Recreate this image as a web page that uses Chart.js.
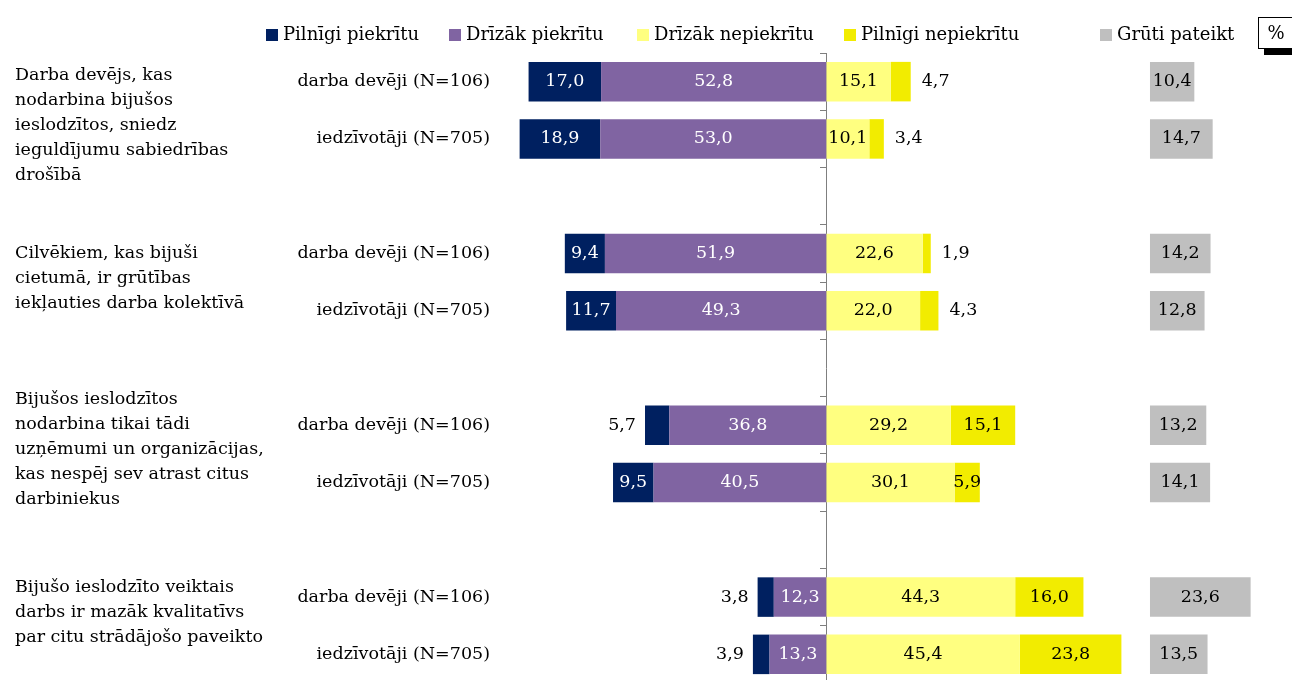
<!DOCTYPE html>
<html>
<head>
<meta charset="utf-8">
<title>Attieksme pret bijušo ieslodzīto nodarbināšanu</title>
<script src="https://cdn.jsdelivr.net/npm/chart.js@4.4.1/dist/chart.umd.min.js"></script>
<style>
    html, body { margin: 0; padding: 0; background: #fff; }
    #wrap { position: relative; width: 1292px; height: 680px; overflow: hidden; }
    #legend { position: absolute; left: 0; top: 0; width: 1292px; height: 52px;
              font-family: "DejaVu Serif", serif; font-size: 18px; color: #000; }
    .item { position: absolute; top: 24px; height: 20px; line-height: 20px; white-space: nowrap; }
    .item i { display: inline-block; width: 12px; height: 12px; margin-right: 5px; vertical-align: -1px; }
    #pct { position: absolute; left: 1258px; top: 17px; width: 34px; height: 30px; border: 1px solid #000;
           box-shadow: 6px 6px 0 #000; background: #fff; text-align: center; line-height: 30px;
           font-family: "DejaVu Serif", serif; font-size: 18px; }
    canvas { position: absolute; left: 0; top: 0; }
</style>
</head>
<body>
<div id="wrap">
    <canvas id="chart" width="1292" height="683"></canvas>
    <div id="legend"></div>
    <div id="pct">%</div>
</div>
<script>
// --- Data ---
const rowLabels = [
    "darba devēji (N=106)", "iedzīvotāji (N=705)",
    "darba devēji (N=106)", "iedzīvotāji (N=705)",
    "darba devēji (N=106)", "iedzīvotāji (N=705)",
    "darba devēji (N=106)", "iedzīvotāji (N=705)"
];
const statements = [
    ["Darba devējs, kas", "nodarbina bijušos", "ieslodzītos, sniedz", "ieguldījumu sabiedrības", "drošībā"],
    ["Cilvēkiem, kas bijuši", "cietumā, ir grūtības", "iekļauties darba kolektīvā"],
    ["Bijušos ieslodzītos", "nodarbina tikai tādi", "uzņēmumi un organizācijas,", "kas nespēj sev atrast citus", "darbiniekus"],
    ["Bijušo ieslodzīto veiktais", "darbs ir mazāk kvalitatīvs", "par citu strādājošo paveikto"]
];
const seriesNames = ["Pilnīgi piekrītu", "Drīzāk piekrītu", "Drīzāk nepiekrītu", "Pilnīgi nepiekrītu", "Grūti pateikt"];
const pilnigiPiekritu   = [17.0, 18.9, 9.4, 11.7, 5.7, 9.5, 3.8, 3.9];
const drizakPiekritu    = [52.8, 53.0, 51.9, 49.3, 36.8, 40.5, 12.3, 13.3];
const drizakNepiekritu  = [15.1, 10.1, 22.6, 22.0, 29.2, 30.1, 44.3, 45.4];
const pilnigiNepiekritu = [4.7, 3.4, 1.9, 4.3, 15.1, 5.9, 16.0, 23.8];
const grutiPateikt      = [10.4, 14.7, 14.2, 12.8, 13.2, 14.1, 23.6, 13.5];

const colors = ["#002060", "#8064a2", "#ffff80", "#f2ec00", "#bfbfbf"];
const FONT = '"DejaVu Serif", serif';

// Two rows per statement, an empty slot between statements
function withGaps(arr, fill) {
    const out = [];
    arr.forEach((v, i) => {
        out.push(v);
        if (i % 2 === 1 && i < arr.length - 1) out.push(fill);
    });
    return out;
}
const labels = withGaps(rowLabels, "");
const neg = arr => arr.map(v => -v);

// --- HTML legend ---
const legendLefts = [266, 449, 637, 844, 1100];
const legendEl = document.getElementById("legend");
seriesNames.forEach((name, i) => {
    const item = document.createElement("div");
    item.className = "item";
    item.style.left = legendLefts[i] + "px";
    item.innerHTML = `<i style="background:${colors[i]}"></i>${name}`;
    legendEl.appendChild(item);
});

// --- Value labels ---
const valueLabels = {
    id: "valueLabels",
    afterDatasetsDraw(chart) {
        const ctx = chart.ctx;
        ctx.save();
        ctx.font = "17.5px " + FONT;
        ctx.textBaseline = "middle";
        chart.data.datasets.forEach((ds, di) => {
            const meta = chart.getDatasetMeta(di);
            meta.data.forEach((bar, i) => {
                const v = ds.data[i];
                if (v === null || v === undefined) return;
                const txt = Math.abs(v).toFixed(1).replace(".", ",");
                const { x, y, base } = bar.getProps(["x", "y", "base"], true);
                const left = Math.min(x, base), right = Math.max(x, base);
                if (ds.outsideBelow && Math.abs(v) < ds.outsideBelow) {
                    ctx.fillStyle = "#000";
                    if (v < 0) { ctx.textAlign = "right"; ctx.fillText(txt, left - 9, y); }
                    else { ctx.textAlign = "left"; ctx.fillText(txt, right + 11, y); }
                } else {
                    ctx.fillStyle = ds.valueColor;
                    ctx.textAlign = "center";
                    ctx.fillText(txt, (left + right) / 2, y);
                }
            });
        });
        ctx.restore();
    }
};

// --- Statement text on the left ---
const statementText = {
    id: "statementText",
    afterDraw(chart) {
        const ctx = chart.ctx;
        const yScale = chart.scales.y;
        const shifts = [15, -4, -4, -13];
        ctx.save();
        ctx.font = "17.5px " + FONT;
        ctx.fillStyle = "#000";
        ctx.textAlign = "left";
        ctx.textBaseline = "middle";
        statements.forEach((lines, g) => {
            const mid = (yScale.getPixelForValue(g * 3) + yScale.getPixelForValue(g * 3 + 1)) / 2 + shifts[g];
            const lh = 25;
            const top = mid - (lines.length - 1) * lh / 2;
            lines.forEach((ln, k) => ctx.fillText(ln, 15, top + k * lh));
        });
        ctx.restore();
    }
};

const barOpts = { barPercentage: 0.69, categoryPercentage: 1, borderWidth: 0 };

new Chart(document.getElementById("chart"), {
    type: "bar",
    data: {
        labels: labels,
        datasets: [
            { label: seriesNames[1], data: withGaps(neg(drizakPiekritu), null), backgroundColor: colors[1], valueColor: "#fff", ...barOpts },
            { label: seriesNames[0], data: withGaps(neg(pilnigiPiekritu), null), backgroundColor: colors[0], valueColor: "#fff", outsideBelow: 6, ...barOpts },
            { label: seriesNames[2], data: withGaps(drizakNepiekritu, null), backgroundColor: colors[2], valueColor: "#000", ...barOpts },
            { label: seriesNames[3], data: withGaps(pilnigiNepiekritu, null), backgroundColor: colors[3], valueColor: "#000", outsideBelow: 5, ...barOpts },
            { label: seriesNames[4], data: withGaps(grutiPateikt, null), backgroundColor: colors[4], valueColor: "#000", xAxisID: "x2", ...barOpts }
        ]
    },
    options: {
        responsive: false,
        animation: false,
        indexAxis: "y",
        layout: { padding: { top: 53, left: 0, right: 0, bottom: 0 } },
        plugins: { legend: { display: false }, tooltip: { enabled: false } },
        scales: {
            x: { type: "linear", stacked: true, min: -76.5, max: 109.2, display: false },
            x2: { type: "linear", min: -152.4, max: 33.3, display: false },
            y: {
                type: "category", stacked: true, offset: true,
                position: { x: 0 },
                ticks: { display: false },
                grid: { offset: true, drawOnChartArea: false, drawTicks: true, tickLength: 6, color: "#7f7f7f" },
                border: { display: true, color: "#7f7f7f", width: 1 }
            },
            yl: {
                type: "category", position: "left", offset: true,
                grid: { display: false, drawTicks: false }, border: { display: false },
                ticks: { color: "#000", padding: 10, font: { family: FONT, size: 17.5 } },
                afterFit: scale => {
                    scale.width = 500;
                    scale.paddingTop = 0;
                    scale.paddingBottom = 0;
                }
            }
        }
    },
    plugins: [valueLabels, statementText]
});
</script>
</body>
</html>
